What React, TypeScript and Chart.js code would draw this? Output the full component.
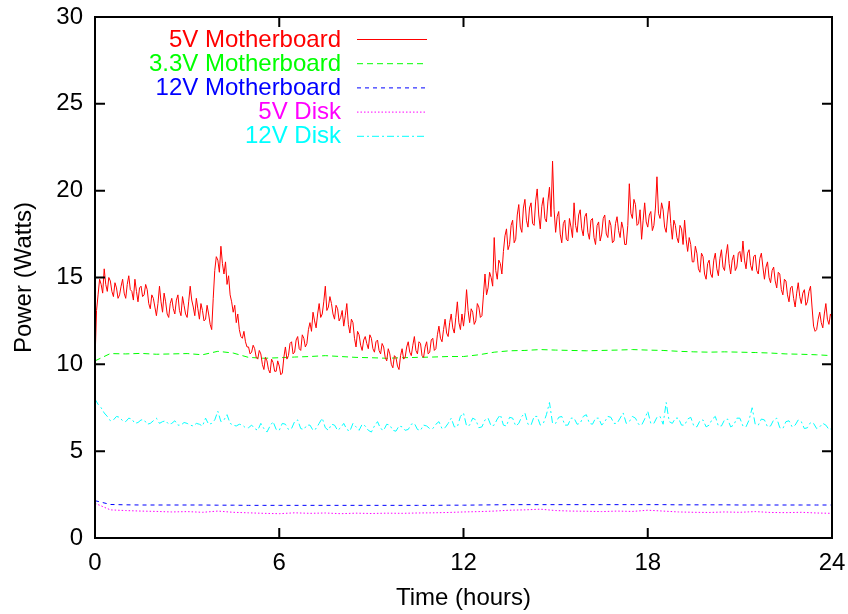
import { useEffect, useRef } from "react";
import { Chart, registerables } from "chart.js";

Chart.register(...registerables);

const SERIES_LABELS = ["5V Motherboard", "3.3V Motherboard", "12V Motherboard", "5V Disk", "12V Disk"];
const SERIES_COLORS = ["#ff0000", "#00ff00", "#0000ff", "#ff00ff", "#00ffff"];
const SERIES_DASHES: number[][] = [[], [6, 4], [4, 4], [1.5, 2], [7, 3, 2, 3]];

// sample spacing (hours) of each series
const MB5V_STEP = 0.05;
const MB33V_STEP = 0.5;
const MB12V_STEP = 0.5;
const DISK5V_STEP = 0.5;
const DISK12V_STEP = 0.1;

// 5V Motherboard, every 0.05 h from 0 to 24 (one row per hour)
const MB5V = [
  10.2, 13.1, 14.0, 14.9, 14.6, 14.1, 15.5, 14.6, 14.2, 15.0, 14.8, 14.2, 13.9, 14.7, 14.4, 13.8, 14.0, 14.5, 14.9, 14.1,
  13.8, 14.6, 15.1, 14.3, 14.2, 13.7, 14.9, 14.2, 13.6, 14.4, 14.5, 13.9, 14.0, 14.6, 14.3, 13.5, 13.2, 14.0, 13.8, 13.3,
  12.8, 13.5, 14.5, 13.6, 13.0, 14.1, 13.6, 12.9, 12.7, 13.5, 13.8, 13.2, 12.9, 13.7, 14.0, 13.1, 12.8, 13.9, 13.4, 12.9,
  12.7, 13.6, 14.5, 13.7, 13.3, 12.8, 13.8, 13.2, 12.6, 13.5, 13.1, 12.5, 12.6, 13.4, 12.9, 12.3, 12.0, 13.8, 15.4, 16.2,
  16.0, 15.3, 16.8, 15.8, 15.2, 15.9, 14.6, 15.1, 14.0, 13.6, 13.0, 13.4, 12.4, 12.9, 12.0, 11.6, 11.5, 11.9, 11.3, 11.0,
  11.0, 10.6, 10.7, 11.1, 10.9, 10.4, 10.3, 10.8, 10.6, 10.0, 9.7, 10.4, 10.2, 9.7, 9.5, 10.3, 10.1, 9.6, 9.6, 10.2,
  9.9, 9.4, 9.5, 10.4, 11.0, 10.3, 10.5, 11.2, 11.3, 10.6, 10.7, 11.4, 11.6, 10.9, 10.8, 11.7, 11.5, 11.0, 11.2, 12.0,
  12.4, 11.9, 13.0, 12.5, 12.1, 12.9, 13.5, 12.7, 12.9, 13.6, 14.5, 13.1, 13.3, 13.9, 13.5, 12.9, 12.6, 13.4, 13.2, 12.5,
  12.7, 13.1, 12.2, 12.8, 13.5, 12.3, 11.8, 12.6, 12.4, 11.5, 11.0, 11.9, 11.7, 11.1, 10.8, 11.4, 11.6, 11.2, 10.9, 11.7,
  11.5, 10.9, 10.7, 11.3, 11.4, 10.8, 10.6, 11.2, 11.0, 10.4, 10.2, 10.9, 10.6, 10.0, 9.8, 10.5, 10.4, 9.9, 9.7, 10.5,
  10.9, 10.3, 10.4, 11.0, 11.3, 10.7, 10.5, 11.1, 11.6, 10.8, 10.6, 11.3, 11.2, 10.5, 10.4, 11.0, 11.3, 10.6, 10.7, 11.4,
  11.5, 10.8, 10.9, 11.7, 12.2, 11.5, 11.3, 12.0, 12.6, 11.8, 11.6, 12.4, 12.9, 12.1, 11.8, 12.7, 13.6, 12.4, 12.0, 12.9,
  12.2, 13.0, 14.3, 13.1, 12.4, 13.2, 13.0, 12.3, 12.5, 13.5, 13.3, 12.7, 12.8, 14.0, 15.2, 14.0, 14.4, 15.3, 15.0, 14.5,
  17.3, 15.4, 14.9, 16.0, 15.8, 15.2, 16.5, 17.4, 17.8, 16.6, 16.9, 18.0, 18.3, 17.0, 17.2, 18.6, 19.2, 17.9, 17.6, 19.0,
  19.5, 18.3, 17.9, 19.0, 19.3, 18.1, 18.0, 19.4, 20.1, 18.6, 17.8, 19.1, 19.6, 18.4, 18.2, 19.4, 20.2, 18.5, 21.7, 18.9,
  17.6, 18.5, 18.8, 17.5, 17.0, 18.1, 18.3, 17.2, 17.1, 18.4, 17.9, 17.3, 19.3, 18.0, 17.6, 18.6, 18.9, 17.8, 17.4, 18.5,
  18.7, 17.6, 17.2, 18.3, 18.4, 17.3, 16.9, 18.0, 18.2, 17.1, 17.5, 18.4, 18.6, 17.5, 17.3, 18.3, 18.0, 17.0, 17.1, 18.1,
  18.5, 17.7, 17.3, 18.2, 17.8, 16.9, 16.9, 18.0, 20.4, 18.7, 18.4, 19.5, 19.2, 18.0, 18.1, 18.9, 17.2, 18.3, 19.3, 18.2,
  17.9, 18.6, 18.8, 17.7, 18.0, 19.0, 20.8, 18.7, 18.4, 19.3, 18.9, 17.9, 17.6, 18.6, 19.4, 18.1, 17.2, 18.3, 18.0, 17.3,
  17.0, 18.0, 17.8, 16.9, 18.3, 17.2, 16.5, 17.3, 16.9, 15.9, 15.9, 16.8, 16.4, 15.5, 15.3, 16.4, 16.2, 15.2, 14.9, 15.8,
  16.0, 15.2, 15.0, 16.0, 16.4, 15.5, 15.1, 16.1, 16.6, 15.6, 15.4, 16.3, 16.9, 15.8, 15.2, 16.0, 16.3, 15.4, 15.6, 16.4,
  16.5, 15.9, 17.1, 16.0, 15.5, 16.4, 16.6, 15.7, 15.4, 16.2, 16.3, 15.4, 15.2, 16.1, 16.4, 15.6, 14.9, 15.6, 15.9, 15.0,
  14.7, 15.4, 15.6, 14.8, 14.4, 15.3, 15.2, 14.3, 14.0, 14.9, 14.8, 14.0, 13.6, 14.4, 14.5, 13.8, 13.3, 14.1, 14.7, 13.9,
  13.5, 14.1, 14.3, 13.4, 13.6, 14.2, 14.5, 13.3, 12.2, 11.9, 12.0, 12.6, 13.0, 12.4, 12.1, 12.9, 13.5, 12.6, 12.3, 12.9,
  12.7,
];

// 3.3V Motherboard, every 0.5 h
const MB33V = [
  10.2, 10.62, 10.6, 10.63, 10.58, 10.6, 10.62, 10.55, 10.75, 10.65,
  10.4, 10.35, 10.38, 10.42, 10.45, 10.5, 10.45, 10.4, 10.38, 10.35,
  10.38, 10.4, 10.42, 10.45, 10.45, 10.55, 10.7, 10.78, 10.8, 10.85,
  10.82, 10.8, 10.78, 10.8, 10.82, 10.85, 10.82, 10.8, 10.75, 10.72,
  10.7, 10.72, 10.7, 10.68, 10.65, 10.6, 10.58, 10.55, 10.5,
];

// 12V Motherboard, every 0.5 h
const MB12V = [
  2.15, 1.93, 1.91, 1.9, 1.9, 1.9, 1.9, 1.9, 1.89, 1.89,
  1.88, 1.88, 1.88, 1.88, 1.88, 1.88, 1.88, 1.88, 1.88, 1.88,
  1.88, 1.88, 1.88, 1.89, 1.89, 1.9, 1.91, 1.92, 1.92, 1.92,
  1.92, 1.92, 1.92, 1.92, 1.92, 1.92, 1.92, 1.92, 1.91, 1.91,
  1.91, 1.91, 1.9, 1.9, 1.9, 1.9, 1.9, 1.9, 1.9,
];

// 5V Disk, every 0.5 h
const DISK5V = [
  2.0, 1.62, 1.58, 1.55, 1.53, 1.5, 1.52, 1.48, 1.55, 1.48,
  1.45, 1.42, 1.4, 1.45, 1.42, 1.44, 1.4, 1.43, 1.41, 1.43,
  1.42, 1.44, 1.45, 1.47, 1.5, 1.52, 1.55, 1.6, 1.62, 1.66,
  1.58, 1.55, 1.54, 1.52, 1.55, 1.53, 1.6, 1.55, 1.5, 1.48,
  1.47, 1.5, 1.48, 1.52, 1.47, 1.46, 1.48, 1.44, 1.42,
];

// 12V Disk, every 0.1 h (one row per hour)
const DISK12V = [
  8.0, 7.7, 7.5, 7.2, 7.0, 6.75, 6.8, 7.0, 6.95, 6.75,
  6.7, 6.9, 6.85, 6.6, 6.65, 6.8, 6.8, 6.55, 6.6, 6.75,
  6.9, 6.6, 6.7, 6.75, 6.55, 6.6, 6.75, 6.5, 6.5, 6.65,
  6.6, 6.5, 6.45, 6.6, 6.55, 6.45, 6.9, 6.55, 6.6, 6.8,
  7.3, 6.7, 6.8, 7.1, 6.6, 6.5, 6.45, 6.55, 6.5, 6.35,
  6.35, 6.5, 6.3, 6.2, 6.6, 6.3, 6.1, 6.45, 6.7, 6.25,
  6.2, 6.6, 6.55, 6.25, 6.3, 6.7, 6.8, 6.3, 6.25, 6.5,
  6.5, 6.2, 6.3, 6.6, 6.9, 6.35, 6.2, 6.55, 6.5, 6.2,
  6.35, 6.6, 6.25, 6.15, 6.6, 6.4, 6.2, 6.55, 6.45, 6.2,
  6.1, 6.45, 6.7, 6.3, 6.2, 6.55, 6.5, 6.2, 6.15, 6.45,
  6.4, 6.2, 6.25, 6.55, 6.6, 6.25, 6.2, 6.5, 6.45, 6.3,
  6.3, 6.55, 6.7, 6.3, 6.35, 6.6, 6.9, 6.4, 6.4, 7.0,
  7.2, 6.45, 6.5, 6.9, 6.8, 6.35, 6.4, 6.8, 6.9, 6.45,
  6.5, 6.85, 7.1, 6.5, 6.45, 6.95, 6.9, 6.45, 6.6, 7.0,
  7.2, 6.55, 6.5, 7.0, 7.0, 6.5, 6.6, 7.1, 7.8, 6.6,
  6.6, 6.95, 7.0, 6.5, 6.5, 6.9, 6.9, 6.55, 6.6, 7.0,
  7.1, 6.6, 6.55, 6.9, 6.9, 6.5, 6.7, 7.0, 6.95, 6.6,
  6.6, 6.9, 7.2, 6.6, 6.7, 7.0, 6.9, 6.55, 6.5, 6.85,
  7.3, 6.6, 6.6, 6.95, 7.0, 6.55, 7.8, 6.7, 6.6, 6.9,
  6.9, 6.5, 6.5, 6.85, 6.95, 6.45, 6.4, 6.75, 6.8, 6.4,
  6.5, 6.85, 7.0, 6.45, 6.45, 6.8, 6.85, 6.4, 6.5, 6.9,
  6.9, 6.45, 6.4, 6.8, 7.5, 6.55, 6.5, 6.85, 6.8, 6.4,
  6.45, 6.8, 6.9, 6.35, 6.3, 6.7, 6.75, 6.4, 6.5, 6.8,
  6.7, 6.3, 6.35, 6.65, 6.6, 6.3, 6.4, 6.6, 6.5, 6.25,
  6.3,
];

const X_MIN = 0;
const X_MAX = 24;
const X_STEP = 6;
const Y_MIN = 0;
const Y_MAX = 30;
const Y_STEP = 5;
const X_TITLE = "Time (hours)";
const Y_TITLE = "Power (Watts)";

const FONT = "'Liberation Sans', Arial, Helvetica, sans-serif";
const FONT_SIZE = 24;

function toPoints(values: number[], step: number) {
  return values.map((v, i) => ({ x: Math.round(i * step * 1000) / 1000, y: v }));
}

function zeroPadding(s: any) {
  s.paddingLeft = 0;
  s.paddingRight = 0;
  s.paddingTop = 0;
  s.paddingBottom = 0;
}

const gnuplotDecor = {
  id: "gnuplotDecor",
  afterDatasetsDraw(chart: any) {
    const { ctx, chartArea: a, scales } = chart;
    ctx.save();
    ctx.setLineDash([]);
    ctx.strokeStyle = "#000";
    ctx.lineWidth = 2;
    ctx.strokeRect(a.left, a.top, a.right - a.left, a.bottom - a.top);
    const L = 10;
    ctx.beginPath();
    scales.x.ticks.forEach((t: any) => {
      const x = scales.x.getPixelForValue(t.value);
      ctx.moveTo(x, a.bottom);
      ctx.lineTo(x, a.bottom - L);
      ctx.moveTo(x, a.top);
      ctx.lineTo(x, a.top + L);
    });
    scales.y.ticks.forEach((t: any) => {
      const y = scales.y.getPixelForValue(t.value);
      ctx.moveTo(a.left, y);
      ctx.lineTo(a.left + L, y);
      ctx.moveTo(a.right, y);
      ctx.lineTo(a.right - L, y);
    });
    ctx.stroke();

    // gnuplot style key: right-aligned text, sample line to its right
    const textRight = a.left + 246;
    const lineStart = a.left + 262;
    const lineEnd = a.left + 332;
    const rowTop = a.top + 22;
    const rowGap = 24.2;
    ctx.font = `${FONT_SIZE}px ${FONT}`;
    ctx.textAlign = "right";
    ctx.textBaseline = "middle";
    chart.data.datasets.forEach((ds: any, i: number) => {
      const y = rowTop + i * rowGap;
      ctx.fillStyle = ds.borderColor;
      ctx.fillText(ds.label, textRight, y + 1);
      ctx.strokeStyle = ds.borderColor;
      ctx.lineWidth = 1;
      ctx.setLineDash(ds.borderDash || []);
      ctx.beginPath();
      ctx.moveTo(lineStart, y + 0.5);
      ctx.lineTo(lineEnd, y + 0.5);
      ctx.stroke();
    });
    ctx.restore();
  },
};

export default function App() {
  const canvasRef = useRef<HTMLCanvasElement | null>(null);

  useEffect(() => {
    if (!canvasRef.current) return;
    const seriesValues = [
      toPoints(MB5V, MB5V_STEP),
      toPoints(MB33V, MB33V_STEP),
      toPoints(MB12V, MB12V_STEP),
      toPoints(DISK5V, DISK5V_STEP),
      toPoints(DISK12V, DISK12V_STEP),
    ];
    const datasets = SERIES_LABELS.map((label, i) => ({
      label,
      data: seriesValues[i],
      borderColor: SERIES_COLORS[i],
      backgroundColor: SERIES_COLORS[i],
      borderDash: SERIES_DASHES[i],
      borderWidth: 1,
      pointRadius: 0,
      tension: 0,
      fill: false,
    }));
    const chart = new Chart(canvasRef.current, {
      type: "line",
      data: { datasets },
      options: {
        responsive: false,
        animation: false,
        events: [],
        layout: { padding: { left: 0, right: 16, top: 17, bottom: 0 } },
        plugins: { legend: { display: false }, tooltip: { enabled: false } },
        scales: {
          x: {
            type: "linear",
            min: X_MIN,
            max: X_MAX,
            grid: { display: false },
            border: { display: false },
            ticks: {
              stepSize: X_STEP,
              color: "#000",
              padding: 3,
              maxRotation: 0,
              font: { family: FONT, size: FONT_SIZE },
            },
            title: {
              display: true,
              text: X_TITLE,
              color: "#000",
              font: { family: FONT, size: FONT_SIZE },
              padding: { top: 0, bottom: 1 },
            },
            afterFit: (s: any) => {
              s.height = 76;
              zeroPadding(s);
            },
          },
          y: {
            type: "linear",
            min: Y_MIN,
            max: Y_MAX,
            grid: { display: false },
            border: { display: false },
            ticks: {
              stepSize: Y_STEP,
              color: "#000",
              padding: 4,
              font: { family: FONT, size: FONT_SIZE },
            },
            title: {
              display: true,
              text: Y_TITLE,
              color: "#000",
              font: { family: FONT, size: FONT_SIZE },
              padding: { top: 10, bottom: 0 },
            },
            afterFit: (s: any) => {
              s.width = 95;
              zeroPadding(s);
            },
          },
        },
      },
      plugins: [gnuplotDecor],
    } as any);
    return () => chart.destroy();
  }, []);

  return (
    <div style={{ position: "absolute", left: 0, top: 0, width: 848, height: 614, background: "#fff" }}>
      <canvas ref={canvasRef} width={848} height={614} style={{ display: "block" }} />
    </div>
  );
}
